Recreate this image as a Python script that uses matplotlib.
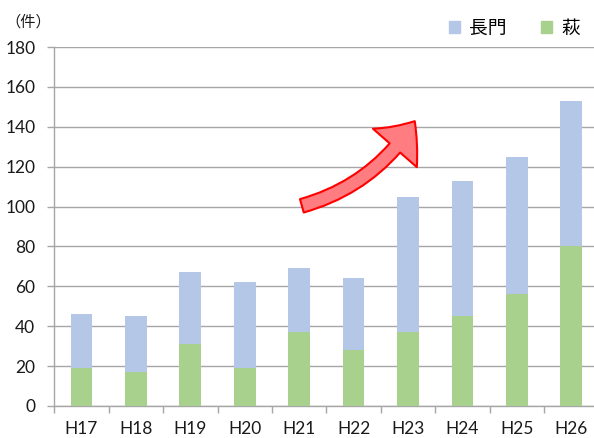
import matplotlib
matplotlib.use("Agg")
import matplotlib.pyplot as plt
from matplotlib.patches import Patch, FancyArrowPatch, ArrowStyle
from matplotlib.ticker import FixedLocator
import numpy as np

years = ["H17", "H18", "H19", "H20", "H21", "H22", "H23", "H24", "H25", "H26"]
hagi = [19, 17, 31, 19, 37, 28, 37, 45, 56, 80]
nagato = [27, 28, 36, 43, 32, 36, 68, 68, 69, 73]

blue = "#b4c7e7"
green = "#a9d18e"
grid_color = "#a6a6a6"
cjk = ["Noto Sans CJK JP", "DejaVu Sans"]

fig = plt.figure(figsize=(5.94, 4.38), dpi=100)
ax = fig.add_axes([54.3 / 594, 32 / 438, 544.2 / 594, 359 / 438])

x = np.arange(len(years))
ax.bar(x, hagi, width=0.4, color=green, zorder=3)
ax.bar(x, nagato, width=0.4, bottom=hagi, color=blue, zorder=3)

ax.set_xlim(-0.5, len(years) - 0.5)
ax.set_ylim(0, 180)
ax.set_yticks(range(0, 181, 20))
ax.yaxis.grid(True, color=grid_color, linewidth=1.0, zorder=0)
ax.set_axisbelow(True)

ax.set_xticks(x)
ax.set_xticklabels(years)
ax.xaxis.set_minor_locator(FixedLocator(np.arange(-0.5, len(years), 1.0)))
ax.tick_params(axis="x", which="major", length=0, pad=11)
ax.tick_params(axis="x", which="minor", length=4.8, color=grid_color, width=1.0)
ax.tick_params(axis="y", length=4.7, color=grid_color, width=1.0, pad=9)
for lab in ax.get_xticklabels() + ax.get_yticklabels():
    lab.set_fontfamily("Lato")
    lab.set_fontsize(12.5)
    lab.set_color("#1a1a1a")

for side in ["top", "right"]:
    ax.spines[side].set_visible(False)
for side in ["left", "bottom"]:
    ax.spines[side].set_color(grid_color)
    ax.spines[side].set_linewidth(1.0)

# curved arrow showing the upward trend
arrow = FancyArrowPatch((4.0, 100), (6.15, 144),
                        connectionstyle="arc3,rad=0.2",
                        arrowstyle=ArrowStyle.Simple(head_length=24, head_width=42, tail_width=10),
                        facecolor="#ff7c80", edgecolor="red", linewidth=1.5,
                        zorder=5, clip_on=False)
ax.add_patch(arrow)

fig.text(5 / 594, 1 - 22 / 438, "（件）", family=cjk, fontsize=11, va="center", ha="left", color="#1a1a1a")

handles = [Patch(color=blue), Patch(color=green)]
fig.legend(handles, ["長門", "萩"], ncol=2, loc="upper right",
           bbox_to_anchor=(597 / 594, 1 - 1 / 438), frameon=False,
           handlelength=0.6, handleheight=0.6, handletextpad=0.5,
           columnspacing=1.8, prop={"family": cjk, "size": 13.5})

fig.savefig("out.png", dpi=100)
